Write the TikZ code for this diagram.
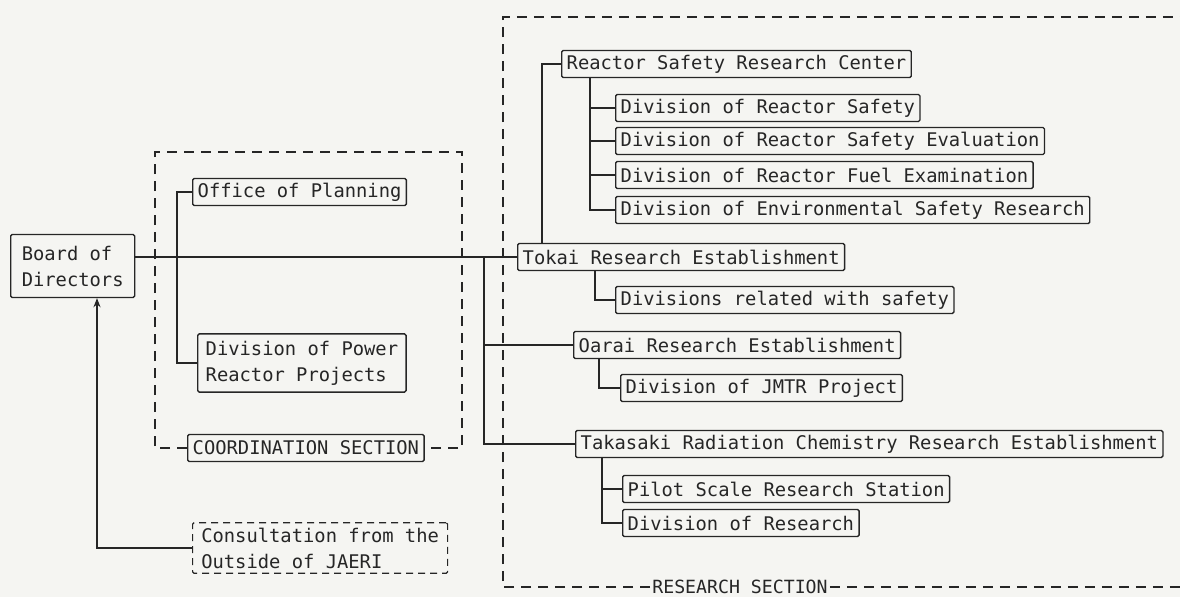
\documentclass[tikz,border=0pt]{standalone}
\usepackage{fontspec}
\usetikzlibrary{arrows.meta,positioning,calc}
\newfontfamily\orgfont{DejaVu Sans Mono}
\definecolor{Ink}{RGB}{38,38,38}
\definecolor{Paper}{RGB}{245,245,242}
\tikzset{
  unit/.style={rectangle,rounded corners=1.5pt,draw=Ink,line width=1.4pt,fill=Paper,
               font=\orgfont\fontsize{18.8}{26}\selectfont,text=Ink,
               minimum height=27pt,inner xsep=5pt,inner ysep=2pt,anchor=west},
  unittwo/.style={unit,align=left,inner xsep=8pt,inner ysep=7pt},
  outunit/.style={unittwo,dash pattern=on 7pt off 5pt,line width=1.2pt,inner ysep=5pt},
  link/.style={draw=Ink,line width=1.4pt},
  sectline/.style={draw=Ink,line width=1.2pt,dash pattern=on 10pt off 7pt},
  sectlabel/.style={font=\orgfont\fontsize{18.2}{22}\selectfont,text=Ink,fill=Paper,inner sep=2pt},
}

\begin{document}
\begin{tikzpicture}[x=1pt,y=-1pt]
  \useasboundingbox[fill=Paper] (0,0) rectangle (1180,597);

  % head office side
  \node[unittwo,minimum width=124pt,minimum height=63pt] (board) at (10,266) {Board of\\Directors};
  \node[unit] (office) at (192,192) {Office of Planning};
  \node[unittwo,minimum width=208pt] (power) at (197,363) {Division of Power\\Reactor Projects};
  \node[unit] (coord) at (187,448) {COORDINATION SECTION};
  \node[outunit,minimum width=255pt] (consult) at (192,548) {Consultation from the\\Outside of JAERI};

  % research establishments
  \node[unit] (rsrc) at (561,64) {Reactor Safety Research Center};
  \node[unit] (drs) at (615,108) {Division of Reactor Safety};
  \node[unit] (drse) at (615,141) {Division of Reactor Safety Evaluation};
  \node[unit] (drfe) at (615,175) {Division of Reactor Fuel Examination};
  \node[unit] (desr) at (615,210) {Division of Environmental Safety Research};
  \node[unit] (tokai) at (517,257) {Tokai Research Establishment};
  \node[unit] (safety) at (615,300) {Divisions related with safety};
  \node[unit] (oarai) at (573,345) {Oarai Research Establishment};
  \node[unit] (jmtr) at (620,388) {Division of JMTR Project};
  \node[unit] (takasaki) at (575,444) {Takasaki Radiation Chemistry Research Establishment};
  \node[unit] (pilot) at (622,489) {Pilot Scale Research Station};
  \node[unit] (divres) at (622,523) {Division of Research};

  % sections
  \draw[sectline] (coord.west) -- (155,448) -- (155,152) -- (462,152) -- (462,448) -- (coord.east);
  \node[sectlabel] (rsect) at (740,587) {RESEARCH SECTION};
  \draw[sectline] (rsect.west) -- (503,587) -- (503,17) -- (1180,17);
  \draw[sectline] (rsect.east) -- (1180,587);

  % connectors
  \coordinate (ltrunk) at (177,0);
  \coordinate (rtrunk) at (484,0);
  \draw[link] (board.east |- tokai.west) -- (tokai.west);
  \draw[link] (office.west) -- (office.west -| ltrunk) -- (power.west -| ltrunk) -- (power.west);
  \draw[link] (tokai.west -| rtrunk) -- (takasaki.west -| rtrunk) -- (takasaki.west);
  \draw[link] (oarai.west -| rtrunk) -- (oarai.west);
  \draw[link] ([xshift=25pt]tokai.north west) |- (rsrc.west);
  \foreach \d in {drs,drse,drfe,desr}
    \draw[link] ([xshift=29pt]rsrc.south west) |- (\d.west);
  \draw[link] ([xshift=78pt]tokai.south west) |- (safety.west);
  \draw[link] ([xshift=26pt]oarai.south west) |- (jmtr.west);
  \foreach \d in {pilot,divres}
    \draw[link] ([xshift=27pt]takasaki.south west) |- (\d.west);
  \coordinate (bend) at (97,548);
  \draw[link,-{Stealth[length=9pt,width=7pt]}] (consult.west) -- (bend) -- (bend |- board.south);
\end{tikzpicture}
\end{document}
